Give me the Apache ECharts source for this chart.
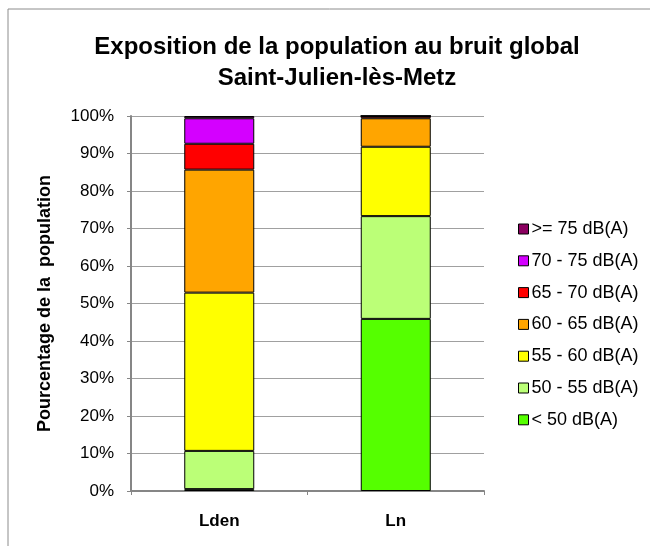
<!DOCTYPE html>
<html>
<head>
<meta charset="utf-8">
<script src="https://cdn.jsdelivr.net/npm/echarts@6/dist/echarts.min.js"></script>
<style>
  html, body { margin: 0; padding: 0; background: #fff; }
  #chart { width: 650px; height: 546px; }
</style>
</head>
<body>
<div id="chart"></div>
<script>
// Noise-exposure indicators on the category axis
const categories = ['Lden', 'Ln'];

// Share of the population (%) per noise band, one value per indicator
const bandNames = ['< 50 dB(A)', '50 - 55 dB(A)', '55 - 60 dB(A)', '60 - 65 dB(A)', '65 - 70 dB(A)', '70 - 75 dB(A)', '>= 75 dB(A)'];
const below50 = [0.5, 45.9];
const band50to55 = [10.2, 27.4];
const band55to60 = [42.2, 18.5];
const band60to65 = [32.8, 7.6];
const band65to70 = [6.9, 0.6];
const band70to75 = [6.8, 0];
const above75 = [0.6, 0];

const yTicks = [0, 10, 20, 30, 40, 50, 60, 70, 80, 90, 100];

const bandValues = [below50, band50to55, band55to60, band60to65, band65to70, band70to75, above75];
const bandColors = ['#55FF00', '#BBFF77', '#FFFF00', '#FFA500', '#FF0000', '#D400FF', '#8B0060'];

const font = 'Liberation Sans, Arial, sans-serif';

const chart = echarts.init(document.getElementById('chart'), null, { renderer: 'canvas' });

chart.setOption({
  animation: false,
  backgroundColor: '#fff',
  title: {
    text: 'Exposition de la population au bruit global\nSaint-Julien-lès-Metz',
    left: 332,
    top: 27,
    textAlign: 'center',
    textStyle: {
      fontFamily: font,
      fontSize: 24,
      fontWeight: 'bold',
      color: '#000',
      lineHeight: 31
    }
  },
  graphic: [{
    type: 'rect',
    shape: { x: 8, y: 9, width: 700, height: 600 },
    style: { fill: 'none', stroke: '#8c8c8c', lineWidth: 1 },
    silent: true,
    z: -1
  }],
  legend: {
    orient: 'vertical',
    left: 513,
    top: 215,
    itemWidth: 10,
    itemHeight: 10,
    itemGap: 13.8,
    icon: 'rect',
    data: bandNames.slice().reverse(),
    textStyle: { fontFamily: font, fontSize: 18, color: '#000', padding: [0, 0, 0, -2] },
    itemStyle: { borderColor: '#000', borderWidth: 1 }
  },
  grid: {
    left: 131,
    right: 166,
    top: 116,
    bottom: 55,
    containLabel: false
  },
  xAxis: {
    type: 'category',
    data: categories,
    axisLine: { lineStyle: { color: '#868686', width: 2 } },
    axisTick: { show: true, alignWithLabel: false, length: 4, lineStyle: { color: '#868686' } },
    axisLabel: { fontFamily: font, fontSize: 17, fontWeight: 'bold', color: '#000', margin: 22 }
  },
  yAxis: {
    type: 'value',
    min: yTicks[0],
    max: yTicks[yTicks.length - 1],
    interval: 10,
    name: 'Pourcentage de la  population',
    nameLocation: 'middle',
    nameGap: 77,
    nameRotate: 90,
    nameTextStyle: { fontFamily: font, fontSize: 18, fontWeight: 'bold', color: '#000' },
    axisLine: { show: true, lineStyle: { color: '#868686', width: 2 } },
    axisTick: { show: true, length: 4, lineStyle: { color: '#868686' } },
    axisLabel: { fontFamily: font, fontSize: 17, color: '#000', margin: 17, formatter: '{value}%' },
    splitLine: { lineStyle: { color: '#a0a0a0', width: 1 } }
  },
  series: bandNames.map((name, i) => ({
    name: name,
    type: 'bar',
    stack: 'total',
    barWidth: 70,
    data: bandValues[i],
    itemStyle: { color: bandColors[i], borderColor: '#000', borderWidth: 1 }
  }))
});
</script>
</body>
</html>
